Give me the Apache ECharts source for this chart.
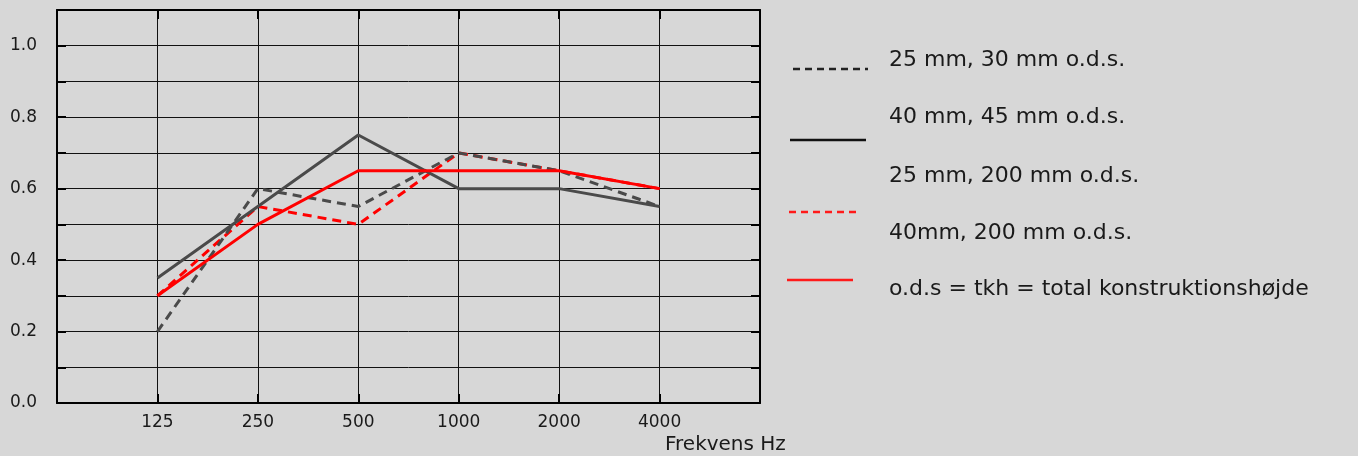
<!DOCTYPE html>
<html><head><meta charset="utf-8">
<script src="https://cdn.jsdelivr.net/npm/echarts@6/dist/echarts.min.js"></script>
<style>html,body{margin:0;padding:0;background:#d7d7d7;}#c{width:1358px;height:456px;}</style>
</head><body><div id="c"></div>
<script>
const freqLabels = ['125', '250', '500', '1000', '2000', '4000'];
const s25_30 = [0.2, 0.6, 0.55, 0.7, 0.65, 0.55];
const s40_45 = [0.35, 0.55, 0.75, 0.6, 0.6, 0.55];
const s40_200 = [0.3, 0.55, 0.5, 0.7, 0.65, 0.6];
const sRed = [0.3, 0.5, 0.65, 0.65, 0.65, 0.6];
const legendTexts = ['25 mm, 30 mm o.d.s.', '40 mm, 45 mm o.d.s.', '25 mm, 200 mm o.d.s.', '40mm, 200 mm o.d.s.', 'o.d.s = tkh = total konstruktionshøjde'];
const xName = 'Frekvens Hz';

const toPts = arr => arr.map((v, i) => [i + 1, v]);
const FONT = '"DejaVu Sans"';
const chart = echarts.init(document.getElementById('c'));
function mkX(pos, showLabel) {
  return {
    type: 'value', min: 0, max: 7, interval: 1, position: pos,
    axisLine: {show: true, onZero: false, lineStyle: {color: '#000', width: 2}},
    axisTick: {show: true, inside: true, length: 9, lineStyle: {color: '#000', width: 2}},
    splitLine: {show: showLabel, lineStyle: {color: '#111', width: 1}},
    axisLabel: showLabel ? {show: true, margin: 11, fontSize: 17, fontFamily: 'DejaVu Sans', color: '#1a1a1a',
      formatter: v => (v >= 1 && v <= 6) ? freqLabels[v - 1] : ''} : {show: false}
  };
}
function mkY(pos, showLabel) {
  return {
    type: 'value', min: 0, max: 1.1, interval: 0.1, position: pos,
    axisLine: {show: true, onZero: false, lineStyle: {color: '#000', width: 2}},
    axisTick: {show: true, inside: true, length: 9, lineStyle: {color: '#000', width: 2}},
    splitLine: {show: showLabel, lineStyle: {color: '#111', width: 1}},
    axisLabel: showLabel ? {show: true, margin: 47, align: 'left', fontSize: 17, fontFamily: 'DejaVu Sans', color: '#1a1a1a',
      formatter: v => (Math.round(v * 10) % 2 === 0 && v <= 1.0001) ? v.toFixed(1) : ''} : {show: false}
  };
}
const legendLines = [
  {x1: 793, x2: 868, y: 69, color: '#222', dash: [7, 5]},
  {x1: 790, x2: 866, y: 140, color: '#111', dash: null},
  {x1: 789, x2: 857, y: 212, color: '#ff1a1a', dash: [7, 5]},
  {x1: 787, x2: 853, y: 280, color: '#ff1a1a', dash: null}
];
const legendTextY = [60, 117, 176, 233, 289];
const graphics = [];
legendLines.forEach(l => graphics.push({
  type: 'line', shape: {x1: l.x1, y1: l.y, x2: l.x2, y2: l.y},
  style: {stroke: l.color, lineWidth: 2.5, lineDash: l.dash || null}
}));
legendTexts.forEach((t, i) => graphics.push({
  type: 'text', x: 889, y: legendTextY[i],
  style: {text: t, font: '22px ' + FONT, fill: '#1a1a1a', textVerticalAlign: 'middle'}
}));
graphics.push({type: 'text', x: 665, y: 445, style: {text: xName, font: '20px ' + FONT, fill: '#1a1a1a', textVerticalAlign: 'middle'}});

chart.setOption({
  backgroundColor: '#d7d7d7',
  animation: false,
  grid: {left: 57, right: 598, top: 10, bottom: 53},
  xAxis: [mkX('bottom', true), mkX('top', false)],
  yAxis: [mkY('left', true), mkY('right', false)],
  series: [
    {type: 'line', name: legendTexts[3], data: toPts(s40_200), symbol: 'none', lineStyle: {color: '#ff0000', width: 3, type: [9, 6]}},
    {type: 'line', name: legendTexts[0], data: toPts(s25_30), symbol: 'none', lineStyle: {color: '#4a4a4a', width: 3, type: [9, 6]}},
    {type: 'line', name: legendTexts[1], data: toPts(s40_45), symbol: 'none', lineStyle: {color: '#4a4a4a', width: 3}},
    {type: 'line', name: legendTexts[4], data: toPts(sRed), symbol: 'none', lineStyle: {color: '#ff0000', width: 3}}
  ],
  graphic: graphics
});
</script></body></html>
